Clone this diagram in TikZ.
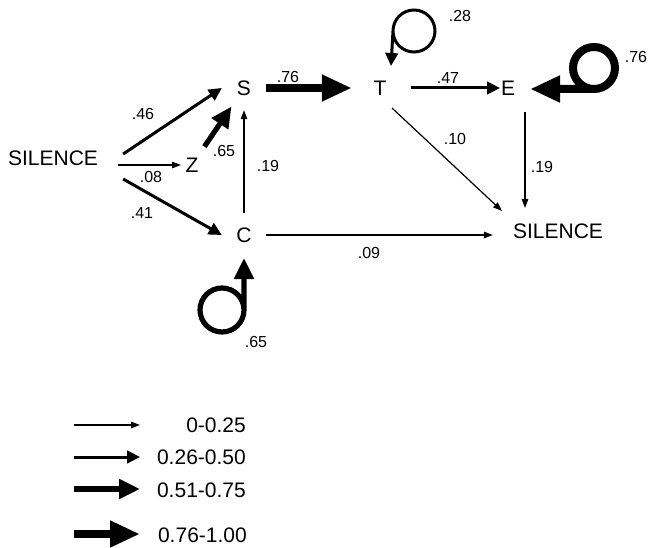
\documentclass[tikz,border=0pt]{standalone}
\usepackage{fontspec}
\setmainfont{Liberation Sans}
\usetikzlibrary{arrows.meta,calc}
\begin{document}
\begin{tikzpicture}[x=1pt,y=-1pt,
  state/.style={circle,inner sep=0pt,minimum size=44pt,font=\fontsize{21}{25}\selectfont},
  word/.style={inner sep=0pt,font=\fontsize{21}{25}\selectfont},
  prob/.style={inner sep=0pt,font=\fontsize{16}{19}\selectfont},
  % arrow weights for the four probability classes
  wA/.style={line width=1.2pt,-{Triangle[length=9pt,width=6.5pt]}},
  wB/.style={line width=3pt,-{Triangle[length=13pt,width=12.5pt]}},
  wC/.style={line width=5.2pt,-{Triangle[length=21pt,width=19pt]}},
  wD/.style={line width=8.5pt,-{Triangle[length=30pt,width=25pt]}},
]
\useasboundingbox (0,0) rectangle (648,548);

% states
\node[word]  (silA) at (53,158)  {SILENCE};
\node[state] (S)    at (244,88)  {S};
\node[state] (Z)    at (192,165) {Z};
\node[state] (C)    at (244,235) {C};
\node[state] (T)    at (380,88)  {T};
\node[state] (E)    at (508,88)  {E};
\node[word]  (silB) at (558,231) {SILENCE};

% transitions
\draw[wB] ([xshift=25pt,yshift=4pt]silA.east) -- (S.west);
\draw[wA] ([xshift=20pt,yshift=-7pt]silA.east) -- ([xshift=-11pt]Z.center);
\draw[wB] ([xshift=25pt,yshift=-21pt]silA.east) -- (C.west);
\draw[wC] (Z) -- (S);
\draw[wA] (C) -- (S);
\draw[wD,shorten >=6pt] (S) -- (T);
\draw[wB] ([xshift=31pt]T.center) -- ([xshift=-8pt]E.center);
\draw[wA] ([xshift=17pt,yshift=-24pt]E.center) -- ([xshift=-33pt,yshift=23pt]silB.center);
\draw[wA] ([xshift=12pt,yshift=-20pt]T.center) -- ([xshift=-56pt,yshift=20pt]silB.center);
\draw[wA,shorten >=20pt] (C) -- (C -| silB.west);

% self loops
\draw[wB] ($(T)+(13,-57)$) arc[start angle=180,end angle=-180,radius=21] -- ($(T)+(11,-22)$);
\draw[wD,line width=8pt] ($(E)+(86,1)$) arc[start angle=90,end angle=450,radius=21] -- ($(E)+(22,1)$);
\draw[wC] ($(C)+(0,75)$) arc[start angle=0,end angle=360,radius=22] -- ($(C)+(0,23)$);

% transition probabilities
\node[prob] (p1)  at (143,114) {.46};
\node[prob] (p2)  at (151,177) {.08};
\node[prob] (p3)  at (142,213) {.41};
\node[prob] (p4)  at (224,151) {.65};
\node[prob] (p5)  at (268,166) {.19};
\node[prob] (p6)  at (288,77)  {.76};
\node[prob] (p7)  at (448,78)  {.47};
\node[prob] (p8)  at (455,139) {.10};
\node[prob] (p9)  at (542,167) {.19};
\node[prob] (p10) at (369,253) {.09};
\node[prob] (p11) at (460,16)  {.28};
\node[prob] (p12) at (636,57)  {.76};
\node[prob] (p13) at (256,342) {.65};

% legend
\coordinate (a1) at (74,425); \coordinate (b1) at (140,425);
\coordinate (a2) at (74,457); \coordinate (b2) at (140,457);
\coordinate (a3) at (74,489); \coordinate (b3) at (140,489);
\coordinate (a4) at (74,534); \coordinate (b4) at (140,534);
\draw[wA] (a1) -- (b1);
\draw[wB] (a2) -- (b2);
\draw[wC] (a3) -- (b3);
\draw[wD] (a4) -- (b4);
\node[word,anchor=east] (k1) at (246,425) {0-0.25};
\node[word,anchor=east] (k2) at (246,457) {0.26-0.50};
\node[word,anchor=east] (k3) at (246,490) {0.51-0.75};
\node[word,anchor=east] (k4) at (247,535) {0.76-1.00};
\end{tikzpicture}
\end{document}
